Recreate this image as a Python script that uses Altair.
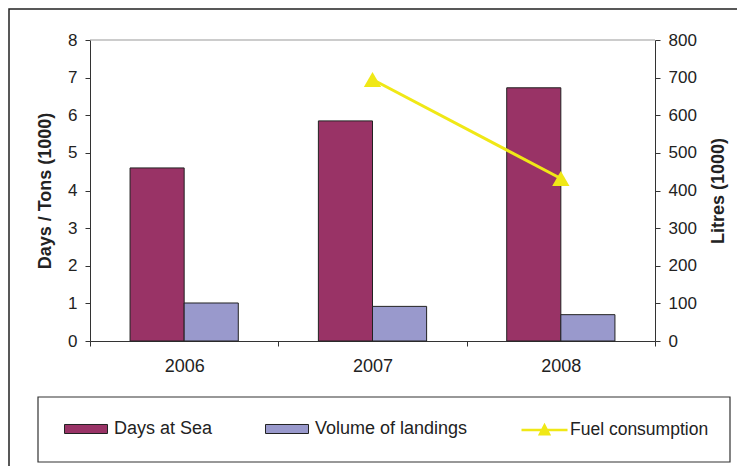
import altair as alt
import pandas as pd

years = ["2006", "2007", "2008"]
days_at_sea = [4.6, 5.85, 6.73]
volume_of_landings = [1.01, 0.92, 0.70]
fuel_years = ["2007", "2008"]
fuel_consumption = [695, 432]
series_names = ["Days at Sea", "Volume of landings"]
fuel_name = "Fuel consumption"

bars_df = pd.DataFrame({
    "year": years * 2,
    "series": [series_names[0]] * 3 + [series_names[1]] * 3,
    "value": days_at_sea + volume_of_landings,
})
fuel_df = pd.DataFrame({"year": fuel_years, "fuel": fuel_consumption,
                        "series": [fuel_name] * len(fuel_years)})

W, H = 565, 301
FONT = "Liberation Sans"
YELLOW = "#F0E816"

x_enc = alt.X("year:N", title=None,
              scale=alt.Scale(domain=years, paddingInner=0, paddingOuter=0),
              axis=alt.Axis(tickBand="extent", labelAngle=0, labelFontSize=18,
                            labelPadding=11, tickSize=5, domainColor="#333",
                            tickColor="#333", labelColor="#222", labelFont=FONT))

bars = alt.Chart(bars_df).mark_bar(stroke="#222", strokeWidth=1).encode(
    x=x_enc,
    xOffset=alt.XOffset("series:N", scale=alt.Scale(domain=series_names, paddingOuter=0.74, paddingInner=0)),
    y=alt.Y("value:Q", title="Days / Tons (1000)",
            scale=alt.Scale(domain=[0, 8], nice=False),
            axis=alt.Axis(orient="left", values=list(range(0, 9)), grid=False,
                          tickSize=5, labelPadding=8, labelFontSize=17, labelFont=FONT,
                          labelColor="#222", domainColor="#333", tickColor="#333",
                          titleFont=FONT, titleFontSize=18, titleFontWeight="bold",
                          titleColor="#222", titleAngle=270, titleX=-45, titleY=H / 2,
                          titleAlign="center", titleBaseline="middle")),
    color=alt.Color("series:N", scale=alt.Scale(domain=series_names, range=["#993366", "#9999CC"]),
                    legend=alt.Legend(orient="none", legendX=-26, legendY=367,
                                      direction="horizontal", title=None,
                                      symbolType="M-1,-0.21H1V0.21H-1Z", symbolSize=1849,
                                      symbolStrokeColor="#222", symbolStrokeWidth=1,
                                      labelFontSize=18, labelFont=FONT, labelColor="#222",
                                      labelOffset=6, columnPadding=50, padding=0, labelLimit=300)),
)

fuel_y = alt.Y("fuel:Q", title="Litres (1000)",
               scale=alt.Scale(domain=[0, 800], nice=False),
               axis=alt.Axis(orient="right", values=list(range(0, 801, 100)), grid=False,
                             tickSize=5, labelPadding=8, labelFontSize=17, labelFont=FONT,
                             labelColor="#222", domainColor="#333", tickColor="#333",
                             titleFont=FONT, titleFontSize=18, titleFontWeight="bold",
                             titleColor="#222", titleAngle=270, titleX=63, titleY=H / 2,
                             titleAlign="center", titleBaseline="middle"))

fuel_line = alt.Chart(fuel_df).mark_line(color=YELLOW, strokeWidth=3).encode(
    x=alt.X("year:N", scale=alt.Scale(domain=years)),
    y=fuel_y,
)
fuel_pts = alt.Chart(fuel_df).mark_point(shape="triangle-up", filled=True, size=300, opacity=1).encode(
    x=alt.X("year:N", scale=alt.Scale(domain=years)),
    y=fuel_y,
    color=alt.Color("series:N",
                    scale=alt.Scale(domain=[fuel_name], range=[YELLOW]),
                    legend=alt.Legend(orient="none", legendX=430, legendY=365.5, title=None,
                                      symbolType="M-1,0H1M-0.2,0.19L0,-0.2L0.2,0.19Z",
                                      symbolSize=2116, symbolFillColor=YELLOW,
                                      symbolStrokeColor=YELLOW, symbolStrokeWidth=2.5,
                                      labelFontSize=17.5, labelFont=FONT, labelColor="#222",
                                      labelOffset=1, padding=0, labelLimit=300)),
)
fuel = alt.layer(fuel_line, fuel_pts)

one = alt.Data(values=[{"k": 1}])
frame = alt.Chart(one).mark_rect(fill=None, stroke="#222", strokeWidth=1.5).encode(
    x=alt.value(-81), x2=alt.value(W + 120), y=alt.value(-31), y2=alt.value(H + 200))
legend_box = alt.Chart(one).mark_rect(fill=None, stroke="#333", strokeWidth=1.2).encode(
    x=alt.value(-52), x2=alt.value(640), y=alt.value(357), y2=alt.value(422))
top_line = alt.Chart(one).mark_rule(color="#999", strokeWidth=1).encode(
    x=alt.value(0), x2=alt.value(W), y=alt.value(0))

chart = alt.layer(frame, legend_box, top_line, bars, fuel).resolve_scale(
    y="independent", color="independent"
).properties(
    width=W, height=H,
    autosize=alt.AutoSizeParams(type="none"),
    padding={"left": 82, "top": 32, "right": 82, "bottom": 125},
).configure_view(stroke=None)

chart.save("out.html", embed_options={"renderer": "svg", "actions": False})
